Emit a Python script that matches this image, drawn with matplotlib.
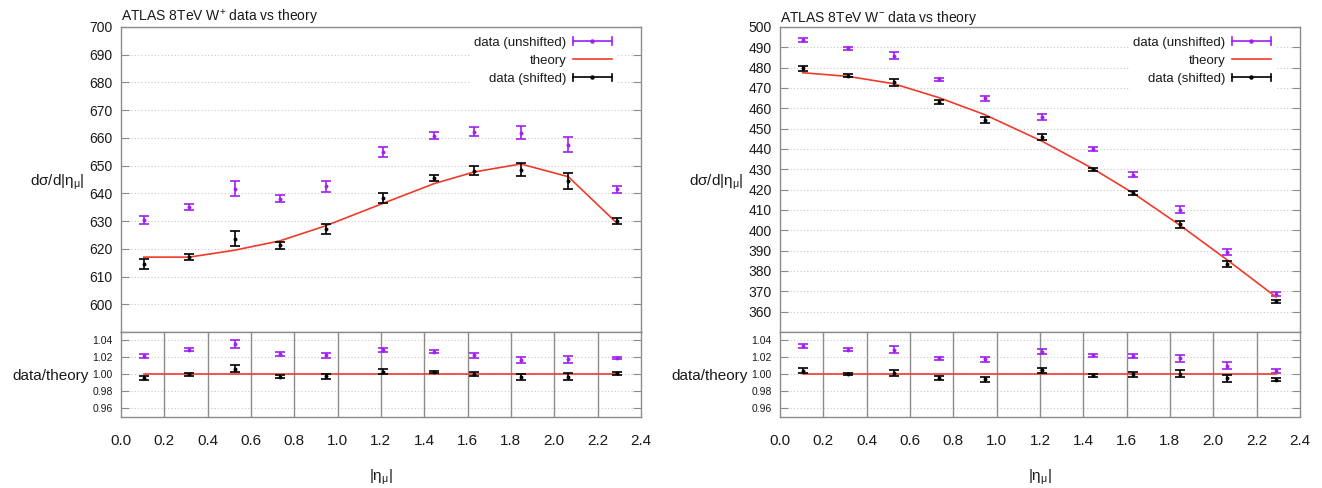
import matplotlib
matplotlib.use("Agg")
import matplotlib.pyplot as plt
import numpy as np
from matplotlib.lines import Line2D
from matplotlib.legend_handler import HandlerBase

plt.rcParams['font.family'] = ['Liberation Sans', 'DejaVu Sans']

# |eta_mu| bin centres
eta = [0.105, 0.315, 0.525, 0.735, 0.945, 1.21, 1.445, 1.63, 1.845, 2.065, 2.29]

# W+ cross sections
wp_unshift = [630.4, 635.1, 641.7, 638.1, 642.5, 654.8, 660.8, 662.3, 661.9, 657.5, 641.4]
wp_unshift_err = [1.5, 1.1, 2.6, 1.3, 2.0, 1.8, 1.2, 1.7, 2.4, 2.7, 1.1]
wp_shift = [614.5, 617.0, 623.7, 621.2, 627.1, 638.5, 645.4, 648.2, 648.6, 644.4, 630.1]
wp_shift_err = [1.7, 1.2, 2.7, 1.2, 1.8, 1.8, 1.1, 1.7, 2.5, 2.8, 1.1]
wp_theory = [617.0, 617.0, 619.5, 622.9, 628.3, 636.4, 643.5, 647.7, 650.6, 646.0, 629.2]

# W- cross sections
wm_unshift = [493.5, 489.5, 485.9, 474.2, 465.0, 455.8, 440.0, 427.4, 410.2, 389.3, 368.6]
wm_unshift_err = [0.9, 0.8, 1.8, 0.8, 1.2, 1.3, 0.8, 1.2, 1.6, 1.6, 0.9]
wm_shift = [479.7, 476.0, 472.8, 463.2, 454.3, 445.9, 430.0, 418.3, 402.9, 383.6, 365.0]
wm_shift_err = [1.2, 0.8, 1.8, 1.0, 1.3, 1.3, 0.8, 1.1, 1.6, 1.5, 0.8]
wm_theory = [477.5, 475.7, 472.1, 465.2, 456.9, 443.8, 430.3, 418.3, 402.6, 385.4, 367.2]

xticks = np.arange(0, 2.41, 0.2)
ratio_ticks = [0.96, 0.98, 1.00, 1.02, 1.04]

PURPLE = '#a020f0'
RED = '#f03a2a'
GRAY = '#8c8c8c'
TXT = '#1a1a1a'


# legend entry like gnuplot: horizontal bar with caps and a dot
class HandlerHBar(HandlerBase):
    def create_artists(self, legend, orig_handle, xdescent, ydescent,
                       width, height, fontsize, trans):
        c = orig_handle.get_color()
        y = height / 2 - ydescent
        x0, x1 = -xdescent, width - xdescent
        cap = height * 0.4
        bar = Line2D([x0, x1], [y, y], color=c, lw=1.2)
        caps = Line2D([x0, x0, np.nan, x1, x1], [y - cap, y + cap, np.nan, y - cap, y + cap],
                      color=c, lw=1.2)
        dot = Line2D([(x0 + x1) / 2], [y], marker='o', ms=2.2, color=c)
        for a in (bar, caps, dot):
            a.set_transform(trans)
        return [bar, caps, dot]


def style_axes(ax, fs):
    for s in ax.spines.values():
        s.set_color(GRAY)
        s.set_linewidth(1.0)
    ax.tick_params(axis='y', which='both', direction='in', length=6, color=GRAY,
                   left=True, right=True, labelsize=fs, labelcolor=TXT, pad=6)
    ax.yaxis.grid(True, linestyle=(0, (1, 2)), color='#c8c8c8', lw=0.8)
    ax.set_axisbelow(True)


def draw(x0, title, unshift, unshift_err, shift, shift_err, theory, ylim, yticks):
    unshift = np.array(unshift)
    shift = np.array(shift)
    theory = np.array(theory)
    ax = fig.add_axes([x0, 0.3197, 0.3933, 0.625])
    ax.errorbar(eta, unshift, yerr=unshift_err, fmt='o', ms=1.8, color=PURPLE,
                ecolor=PURPLE, elinewidth=1.2, capsize=3.5, capthick=1.2, zorder=3)
    ax.plot(eta, theory, color=RED, lw=1.2, zorder=4)
    ax.errorbar(eta, shift, yerr=shift_err, fmt='o', ms=1.8, color='black',
                ecolor='black', elinewidth=1.2, capsize=3.5, capthick=1.2, zorder=5)
    ax.set_xlim(0, 2.4)
    ax.set_ylim(*ylim)
    ax.set_yticks(yticks)
    ax.set_xticks(xticks)
    ax.tick_params(axis='x', bottom=False, labelbottom=False)
    style_axes(ax, 10)
    ax.set_title(title, loc='left', fontsize=10, color=TXT, pad=3)
    ax.set_ylabel('dσ/d|η$_{\\mathregular{μ}}$|', rotation=0, fontsize=11, color=TXT,
                  ha='right', va='center')
    ax.yaxis.set_label_coords(-0.07, 0.49)

    h_un = Line2D([], [], color=PURPLE)
    h_th = Line2D([], [], color=RED, lw=1.2)
    h_sh = Line2D([], [], color='black')
    leg = ax.legend([h_un, h_th, h_sh], ['data (unshifted)', 'theory', 'data (shifted)'],
                    loc='upper right', bbox_to_anchor=(0.95, 0.978), markerfirst=False,
                    handler_map={h_un: HandlerHBar(), h_sh: HandlerHBar()},
                    fontsize=9.5, handlelength=3.0, handletextpad=0.5, labelspacing=0.45,
                    borderpad=0.2, borderaxespad=0, frameon=True, fancybox=False,
                    framealpha=1, edgecolor='white', facecolor='white')
    for t in leg.get_texts():
        t.set_color(TXT)

    # ratio panel
    rx = fig.add_axes([x0, 0.1455, 0.3933, 0.1742])
    rx.errorbar(eta, unshift / theory, yerr=np.array(unshift_err) / theory, fmt='o', ms=1.8,
                color=PURPLE, ecolor=PURPLE, elinewidth=1.2, capsize=3.5, capthick=1.2, zorder=3)
    rx.plot(eta, theory / theory, color=RED, lw=1.2, zorder=4)
    rx.errorbar(eta, shift / theory, yerr=np.array(shift_err) / theory, fmt='o', ms=1.8,
                color='black', ecolor='black', elinewidth=1.2, capsize=3.5, capthick=1.2, zorder=5)
    rx.set_xlim(0, 2.4)
    rx.set_ylim(0.95, 1.05)
    rx.set_yticks(ratio_ticks)
    rx.set_yticklabels(['%.2f' % v for v in ratio_ticks])
    rx.set_xticks(xticks)
    rx.set_xticklabels(['%.1f' % v for v in xticks])
    for xv in xticks[1:-1]:
        rx.axvline(xv, color=GRAY, lw=1.0, zorder=1)
    style_axes(rx, 7.5)
    rx.tick_params(axis='x', length=0, labelsize=11, labelcolor=TXT, pad=12)
    rx.set_ylabel('data/theory', rotation=0, fontsize=11, color=TXT, ha='right', va='center')
    rx.yaxis.set_label_coords(-0.062, 0.48)
    rx.set_xlabel('|η$_{\\mathregular{μ}}$|', fontsize=11, color=TXT, labelpad=14)


fig = plt.figure(figsize=(13.22, 4.88), dpi=100)

draw(0.0915, 'ATLAS 8TeV W$^{\\mathregular{+}}$ data vs theory',
     wp_unshift, wp_unshift_err, wp_shift, wp_shift_err, wp_theory,
     (590, 700), np.arange(600, 701, 10))
draw(0.590, 'ATLAS 8TeV W$^{\\mathregular{-}}$ data vs theory',
     wm_unshift, wm_unshift_err, wm_shift, wm_shift_err, wm_theory,
     (350, 500), np.arange(360, 501, 10))

fig.savefig('out.png', dpi=100)
